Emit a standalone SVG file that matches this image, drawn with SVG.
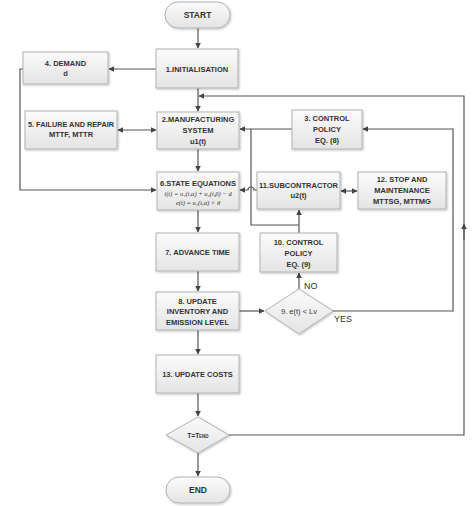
<svg xmlns="http://www.w3.org/2000/svg" width="474" height="506" viewBox="0 0 474 506">
<defs>
<linearGradient id="g" x1="0" y1="0" x2="0" y2="1"><stop offset="0" stop-color="#fbfbfb"/><stop offset="1" stop-color="#e4e4e4"/></linearGradient>
<filter id="sh" x="-10%" y="-10%" width="130%" height="130%"><feDropShadow dx="1" dy="1" stdDeviation="0.8" flood-color="#000" flood-opacity="0.25"/></filter>
<marker id="a" viewBox="0 0 10 10" refX="9" refY="5" markerWidth="6" markerHeight="6" orient="auto-start-reverse" markerUnits="userSpaceOnUse"><path d="M0,0 L10,5 L0,10 z" fill="#444"/></marker>
<style>
.n{fill:url(#g);stroke:#b3b3b3;stroke-width:1;filter:url(#sh)}
.t{font-family:"Liberation Sans",Arial,sans-serif;font-size:7.5px;font-weight:bold;fill:#333;text-anchor:middle}
.e{font-family:"Liberation Serif","Times New Roman",serif;font-size:6.5px;font-style:italic;fill:#333;text-anchor:middle}
.l{font-family:"Liberation Sans",Arial,sans-serif;font-size:9px;fill:#333}
.c{fill:none;stroke:#555;stroke-width:1.2}
</style>
</defs>
<g id="connectors">
<path class="c" d="M198,28 V48" marker-end="url(#a)"/>
<path class="c" d="M156,69 H109" marker-end="url(#a)"/>
<path class="c" d="M23,69 H20 V190 H156" marker-end="url(#a)"/>
<path class="c" d="M198,88 V111" marker-end="url(#a)"/>
<path class="c" d="M118,130 H156" marker-start="url(#a)" marker-end="url(#a)"/>
<path class="c" d="M198,149 V171" marker-end="url(#a)"/>
<path class="c" d="M292,129 H240" marker-end="url(#a)"/>
<path class="c" d="M251,129 V225 H299"/>
<path class="c" d="M299,233 V210" marker-end="url(#a)"/>
<path class="c" d="M257,190 H254 A3,3 0 0 0 248,190 H240" marker-end="url(#a)"/>
<path class="c" d="M341,191 H357" marker-start="url(#a)" marker-end="url(#a)"/>
<path class="c" d="M198,210 V232" marker-end="url(#a)"/>
<path class="c" d="M198,271 V291" marker-end="url(#a)"/>
<path class="c" d="M239,311 H264" marker-end="url(#a)"/>
<path class="c" d="M299,289 V273" marker-end="url(#a)"/>
<path class="c" d="M333,311 H453 V129 H363" marker-end="url(#a)"/>
<path class="c" d="M198,330 V354" marker-end="url(#a)"/>
<path class="c" d="M198,393 V416" marker-end="url(#a)"/>
<path class="c" d="M198,453 V476" marker-end="url(#a)"/>
<path class="c" d="M229,435 H464 V96 H199" marker-end="url(#a)"/>
<path class="c" d="M464,240 V224" marker-end="url(#a)"/>
</g>
<g id="start"><rect class="n" x="165" y="2" width="65" height="26" rx="13"/><text class="t" x="197.5" y="18" style="font-size:8.5px">START</text></g>
<g id="n1"><rect class="n" x="156" y="49" width="82" height="39"/><text class="t" x="197" y="72">1.INITIALISATION</text></g>
<g id="n4"><rect class="n" x="23" y="52" width="85" height="32"/><text class="t" x="65.5" y="66">4. DEMAND</text><text class="t" x="65.5" y="76">d</text></g>
<g id="n5"><rect class="n" x="25" y="111" width="92" height="38"/><text class="t" x="71" y="127" textLength="86" lengthAdjust="spacingAndGlyphs">5. FAILURE AND REPAIR</text><text class="t" x="71" y="137">MTTF, MTTR</text></g>
<g id="n2"><rect class="n" x="157" y="112" width="82" height="37"/><text class="t" x="198" y="122">2.MANUFACTURING</text><text class="t" x="198" y="133">SYSTEM</text><text class="t" x="198" y="144">u1(t)</text></g>
<g id="n3"><rect class="n" x="292" y="110" width="70" height="39"/><text class="t" x="327" y="121">3. CONTROL</text><text class="t" x="327" y="132">POLICY</text><text class="t" x="327" y="143">EQ. (8)</text></g>
<g id="n6"><rect class="n" x="157" y="172" width="82" height="38"/><text class="t" x="198" y="186">6.STATE EQUATIONS</text><text class="e" x="198" y="196">i(t) = u₁(t,α) + u₂(t,β) − d</text><text class="e" x="198" y="205">e(t) = u₁(t,α) × θ</text></g>
<g id="n11"><rect class="n" x="257" y="172" width="83" height="37"/><text class="t" x="298.5" y="188">11.SUBCONTRACTOR</text><text class="t" x="298.5" y="198">u2(t)</text></g>
<g id="n12"><rect class="n" x="358" y="172" width="88" height="37"/><text class="t" x="402" y="182">12. STOP AND</text><text class="t" x="402" y="193">MAINTENANCE</text><text class="t" x="402" y="204">MTTSG, MTTMG</text></g>
<g id="n7"><rect class="n" x="156" y="233" width="83" height="38"/><text class="t" x="197.5" y="255">7. ADVANCE TIME</text></g>
<g id="n10"><rect class="n" x="260" y="233" width="77" height="39"/><text class="t" x="298.5" y="245">10. CONTROL</text><text class="t" x="298.5" y="256">POLICY</text><text class="t" x="298.5" y="267">EQ. (9)</text></g>
<g id="n8"><rect class="n" x="156" y="292" width="83" height="38"/><text class="t" x="197.5" y="304">8. UPDATE</text><text class="t" x="197.5" y="314">INVENTORY AND</text><text class="t" x="197.5" y="325">EMISSION LEVEL</text></g>
<g id="n9"><polygon class="n" points="299,289 333,311 299,334 265,311"/><text class="t" x="299" y="314" style="font-weight:normal">9. e(t) &lt; Lv</text></g>
<g id="n13"><rect class="n" x="156" y="355" width="83" height="38"/><text class="t" x="197.5" y="377">13. UPDATE COSTS</text></g>
<g id="dend"><polygon class="n" points="198,417 229,435 198,453 166,435"/><text class="t" x="198" y="438" style="font-size:6.5px">T=T<tspan style="font-size:4.5px">END</tspan></text></g>
<g id="end"><rect class="n" x="166" y="477" width="64" height="26" rx="13"/><text class="t" x="198" y="493" style="font-size:8.5px">END</text></g>
<g id="labels"><text class="l" x="304" y="289">NO</text><text class="l" x="334" y="322">YES</text></g>
</svg>
